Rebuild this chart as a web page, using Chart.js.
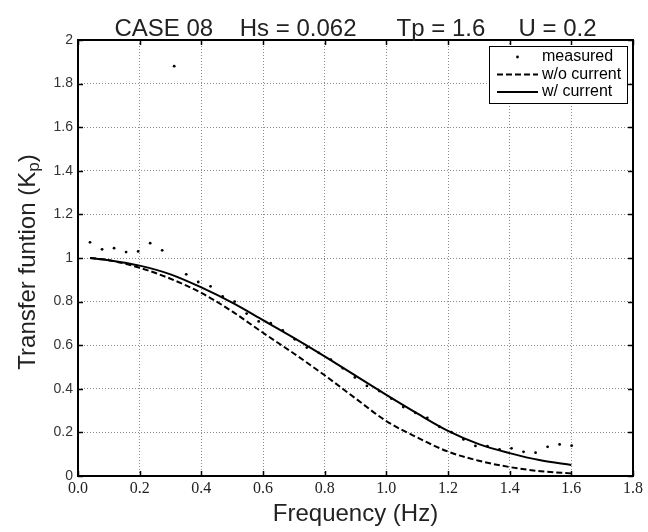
<!DOCTYPE html>
<html>
<head>
<meta charset="utf-8">
<script src="https://cdn.jsdelivr.net/npm/chart.js@4.4.0/dist/chart.umd.min.js"></script>
<style>
  body { margin: 0; background: #fff; }
  canvas { display: block; }
</style>
</head>
<body>
<canvas id="kpChart" width="648" height="532"></canvas>
<script>
// measured transfer function (Hz, Kp)
const measuredFreq = [0.039, 0.078, 0.117, 0.156, 0.195, 0.234, 0.273, 0.312, 0.351, 0.390,
  0.430, 0.469, 0.508, 0.547, 0.586, 0.625, 0.664, 0.703, 0.742, 0.781,
  0.820, 0.859, 0.898, 0.937, 0.977, 1.016, 1.055, 1.094, 1.133, 1.172,
  1.211, 1.250, 1.289, 1.328, 1.367, 1.406, 1.445, 1.484, 1.523, 1.562, 1.601];
const measuredKp = [1.072, 1.040, 1.045, 1.027, 1.030, 1.068, 1.035, 1.880, 0.925, 0.890,
  0.870, 0.824, 0.800, 0.745, 0.709, 0.701, 0.668, 0.627, 0.589, 0.565,
  0.534, 0.494, 0.452, 0.413, 0.390, 0.355, 0.316, 0.290, 0.267, 0.226,
  0.201, 0.168, 0.138, 0.137, 0.122, 0.127, 0.111, 0.107, 0.134, 0.145, 0.139];

// model curves
const modelFreq = [0.039, 0.1, 0.2, 0.3, 0.4, 0.5, 0.6, 0.7, 0.8, 0.9, 1.0, 1.1, 1.2, 1.3, 1.4, 1.5, 1.6];
const kpNoCurrent = [1.0, 0.99, 0.955, 0.905, 0.84, 0.755, 0.657, 0.562, 0.462, 0.356, 0.252, 0.177, 0.112, 0.07, 0.041, 0.022, 0.012];
const kpCurrent = [1.0, 0.99, 0.965, 0.925, 0.865, 0.795, 0.715, 0.634, 0.549, 0.46, 0.372, 0.287, 0.207, 0.146, 0.105, 0.072, 0.05];

const xTicks = [0, 0.2, 0.4, 0.6, 0.8, 1.0, 1.2, 1.4, 1.6, 1.8];
const yTicks = [0, 0.2, 0.4, 0.6, 0.8, 1.0, 1.2, 1.4, 1.6, 1.8, 2.0];

const chartTitle = 'CASE 08    Hs = 0.062      Tp = 1.6     U = 0.2';
const legendLabels = ['measured', 'w/o current', 'w/ current'];

const SANS = '"Liberation Sans", Arial, sans-serif';

function pairs(xs, ys) {
  return xs.map((x, i) => ({ x: x, y: ys[i] }));
}

// white page behind the canvas
const whiteBg = {
  id: 'whiteBg',
  beforeDraw(chart) {
    const ctx = chart.ctx;
    ctx.save();
    ctx.fillStyle = '#fff';
    ctx.fillRect(0, 0, chart.width, chart.height);
    ctx.restore();
  }
};

// box around the axes with inward ticks on all four sides
const frameTicks = {
  id: 'frameTicks',
  afterDatasetsDraw(chart) {
    const { ctx, chartArea: a, scales: { x, y } } = chart;
    ctx.save();
    ctx.strokeStyle = '#000';
    ctx.lineWidth = 1.5;
    ctx.beginPath();
    xTicks.forEach(v => {
      const px = Math.round(x.getPixelForValue(v)) + 0.5;
      ctx.moveTo(px, a.bottom); ctx.lineTo(px, a.bottom - 5);
      ctx.moveTo(px, a.top); ctx.lineTo(px, a.top + 5);
    });
    yTicks.forEach(v => {
      const py = Math.round(y.getPixelForValue(v)) + 0.5;
      ctx.moveTo(a.left, py); ctx.lineTo(a.left + 5, py);
      ctx.moveTo(a.right, py); ctx.lineTo(a.right - 5, py);
    });
    ctx.stroke();
    ctx.lineWidth = 2;
    ctx.strokeRect(a.left, a.top, a.right - a.left, a.bottom - a.top);
    ctx.restore();
  }
};

// title centred over the axes, y axis title with subscript p
const axisTexts = {
  id: 'axisTexts',
  afterDraw(chart) {
    const ctx = chart.ctx;
    const a = chart.chartArea;
    ctx.save();
    ctx.fillStyle = '#222';
    ctx.font = '24px ' + SANS;
    ctx.textAlign = 'center';
    ctx.textBaseline = 'alphabetic';
    ctx.fillText(chartTitle, (a.left + a.right) / 2, 36);
    ctx.restore();

    const main = 'Transfer funtion (K';
    ctx.save();
    ctx.translate(28, (a.top + a.bottom) / 2 + 4);
    ctx.rotate(-Math.PI / 2);
    ctx.fillStyle = '#222';
    ctx.textBaseline = 'middle';
    ctx.font = '24px ' + SANS;
    const w1 = ctx.measureText(main).width;
    const w3 = ctx.measureText(')').width;
    ctx.font = '17px ' + SANS;
    const w2 = ctx.measureText('p').width;
    const x0 = -(w1 + w2 + w3) / 2;
    ctx.font = '24px ' + SANS;
    ctx.fillText(main, x0, 0);
    ctx.fillText(')', x0 + w1 + w2, 0);
    ctx.font = '17px ' + SANS;
    ctx.fillText('p', x0 + w1, 6);
    ctx.restore();
  }
};

// legend box in the top right corner of the axes
const boxLegend = {
  id: 'boxLegend',
  afterDraw(chart) {
    const ctx = chart.ctx;
    const a = chart.chartArea;
    const w = 138, h = 57;
    const left = a.right - 6 - w, top = a.top + 6;
    ctx.save();
    ctx.fillStyle = '#fff';
    ctx.fillRect(left, top, w, h);
    ctx.strokeStyle = '#000';
    ctx.lineWidth = 1;
    ctx.strokeRect(left + 0.5, top + 0.5, w, h);
    ctx.font = '16px ' + SANS;
    ctx.textBaseline = 'middle';
    ctx.fillStyle = '#000';
    chart.data.datasets.forEach((ds, i) => {
      const cy = top + 11 + i * 17.5;
      const sx = left + 8, ex = left + 49;
      if (i === 0) {
        ctx.beginPath();
        ctx.arc((sx + ex) / 2, cy, 1.4, 0, Math.PI * 2);
        ctx.fill();
      } else {
        ctx.beginPath();
        ctx.setLineDash(ds.borderDash || []);
        ctx.lineWidth = 2;
        ctx.moveTo(sx, cy);
        ctx.lineTo(ex, cy);
        ctx.stroke();
        ctx.setLineDash([]);
      }
      ctx.fillText(legendLabels[i], left + 53, cy);
    });
    ctx.restore();
  }
};

const ctx = document.getElementById('kpChart').getContext('2d');
new Chart(ctx, {
  type: 'line',
  data: {
    datasets: [{
      type: 'scatter',
      label: legendLabels[0],
      data: pairs(measuredFreq, measuredKp),
      pointRadius: 1.4,
      pointBackgroundColor: '#000',
      pointBorderWidth: 0,
      showLine: false
    }, {
      label: legendLabels[1],
      data: pairs(modelFreq, kpNoCurrent),
      borderColor: '#000',
      borderWidth: 2,
      borderDash: [6, 3],
      pointRadius: 0,
      cubicInterpolationMode: 'monotone',
      fill: false
    }, {
      label: legendLabels[2],
      data: pairs(modelFreq, kpCurrent),
      borderColor: '#000',
      borderWidth: 2,
      pointRadius: 0,
      cubicInterpolationMode: 'monotone',
      fill: false
    }]
  },
  options: {
    responsive: false,
    animation: false,
    devicePixelRatio: 1,
    layout: { padding: { left: 0, right: 15, top: 40, bottom: 0 } },
    plugins: {
      legend: { display: false },
      tooltip: { enabled: false },
      title: { display: false }
    },
    scales: {
      x: {
        type: 'linear',
        min: 0,
        max: 1.8,
        afterBuildTicks: s => { s.ticks = xTicks.map(v => ({ value: v })); },
        afterFit: s => { s.height = 56; },
        ticks: {
          padding: 3,
          color: '#222',
          maxRotation: 0,
          font: { family: '"Liberation Serif", "Times New Roman", serif', size: 16 },
          callback: v => v.toFixed(1)
        },
        grid: { color: '#8a8a8a', lineWidth: 1, drawTicks: false },
        border: { display: false, dash: [1, 2] },
        title: {
          display: true,
          text: 'Frequency (Hz)',
          color: '#222',
          font: { family: SANS, size: 24, lineHeight: 1 },
          padding: { top: 0, bottom: 6 }
        }
      },
      y: {
        type: 'linear',
        min: 0,
        max: 2,
        afterBuildTicks: s => { s.ticks = yTicks.map(v => ({ value: v })); },
        afterFit: s => { s.width = 78; },
        ticks: {
          padding: 5,
          color: '#333',
          font: { family: SANS, size: 14 },
          callback: v => String(Number(v.toFixed(1)))
        },
        grid: { color: '#8a8a8a', lineWidth: 1, drawTicks: false },
        border: { display: false, dash: [1, 2] }
      }
    }
  },
  plugins: [whiteBg, frameTicks, axisTexts, boxLegend]
});
</script>
</body>
</html>
